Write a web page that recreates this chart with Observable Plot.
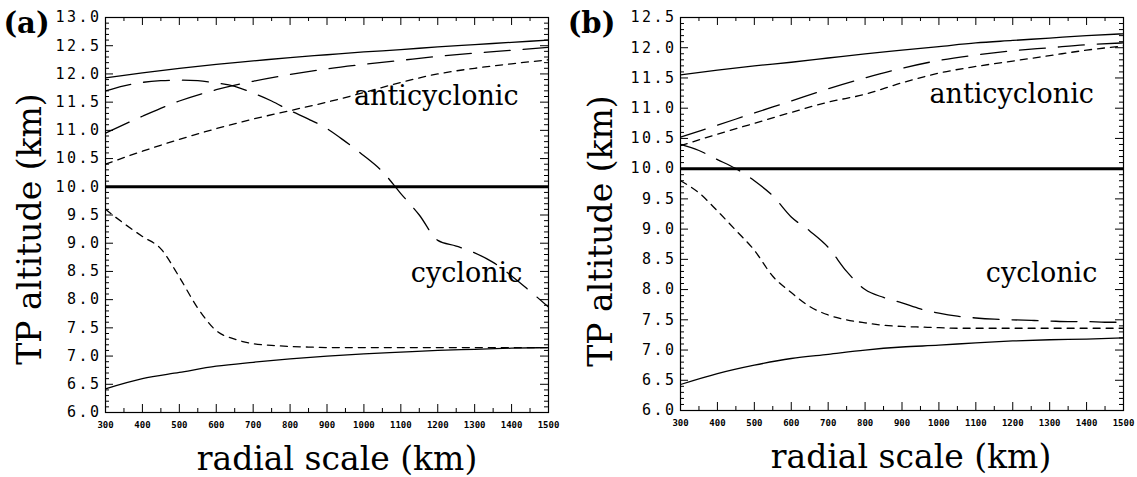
<!DOCTYPE html>
<html><head><meta charset="utf-8">
<script src="https://cdn.jsdelivr.net/npm/d3@7"></script>
<script src="https://cdn.jsdelivr.net/npm/@observablehq/plot@0.6"></script>
<style>
html,body{margin:0;padding:0;background:#fff;}
#wrap{display:flex;width:1137px;height:477px;overflow:hidden;}
#wrap svg{display:block;flex:none;}
g[aria-label="y-axis tick label"] text{letter-spacing:2.5px;}
</style></head><body><div id="wrap"></div>
<script>
// ---------- data ----------
const radius = [300,400,500,600,700,800,900,1000,1100,1200,1300,1400,1500];
const radiusFine = [300,350,400,450,500,550,600,650,700,750,800,850,900,950,1000,1050,1100,1150,1200,1250,1300,1350,1400,1450,1500];

// panel (a)
const aSolidUpper = [11.93,12.02,12.10,12.17,12.23,12.29,12.34,12.39,12.43,12.48,12.52,12.56,12.60];
const aLongUpper  = [10.95,11.25,11.52,11.72,11.87,11.99,12.09,12.17,12.24,12.31,12.37,12.42,12.47];
const aShortUpper = [10.40,10.63,10.84,11.03,11.20,11.35,11.50,11.67,11.85,12.00,12.10,12.18,12.25];
const aSolidLower = [6.42,6.60,6.71,6.82,6.89,6.95,7.00,7.04,7.07,7.10,7.12,7.14,7.15];
const aLongCyclonic  = [11.70,11.79,11.85,11.88,11.89,11.88,11.84,11.78,11.66,11.52,11.35,11.20,11.03,10.80,10.55,10.27,9.88,9.50,9.05,8.95,8.83,8.66,8.42,8.15,7.87];
const aShortCyclonic = [9.60,9.35,9.12,8.90,8.40,7.85,7.45,7.30,7.22,7.19,7.17,7.16,7.15,7.15,7.15,7.15,7.15,7.15,7.15,7.15,7.15,7.15,7.15,7.15,7.15];

// panel (b)
const bSolidUpper = [11.55,11.63,11.70,11.76,11.83,11.90,11.96,12.02,12.08,12.12,12.16,12.20,12.23];
const bLongUpper  = [10.52,10.72,10.92,11.12,11.32,11.50,11.66,11.79,11.88,11.95,12.00,12.05,12.08];
const bShortUpper = [10.38,10.57,10.75,10.93,11.10,11.23,11.42,11.58,11.69,11.78,11.87,11.96,12.03];
const bSolidLower = [6.43,6.61,6.75,6.86,6.93,7.00,7.05,7.08,7.12,7.15,7.17,7.18,7.20];
const bLongCyclonic  = [10.40,10.30,10.15,10.00,9.80,9.55,9.20,8.97,8.70,8.30,8.00,7.87,7.78,7.68,7.61,7.56,7.53,7.51,7.50,7.49,7.48,7.47,7.47,7.46,7.46];
const bShortCyclonic = [9.80,9.60,9.30,8.98,8.65,8.22,7.95,7.72,7.58,7.50,7.45,7.41,7.39,7.38,7.37,7.36,7.36,7.36,7.36,7.36,7.36,7.36,7.36,7.36,7.36];

const referenceLevel = [10.0];

// ticks & labels
const xTicks = [300,400,500,600,700,800,900,1000,1100,1200,1300,1400,1500];
const xMinorTicks = [350,450,550,650,750,850,950,1050,1150,1250,1350,1450];
const yTicksA = [6.0,6.5,7.0,7.5,8.0,8.5,9.0,9.5,10.0,10.5,11.0,11.5,12.0,12.5,13.0];
const yTicksB = [6.0,6.5,7.0,7.5,8.0,8.5,9.0,9.5,10.0,10.5,11.0,11.5,12.0,12.5];
const xLabel = "radial scale (km)";
const yLabel = "TP altitude (km)";
const annotationsA = [{text:"anticyclonic", r:1196, alt:11.60}, {text:"cyclonic", r:1278, alt:8.46}];
const annotationsB = [{text:"anticyclonic", r:1197, alt:11.23}, {text:"cyclonic", r:1278, alt:8.27}];

// ---------- drawing ----------
const SERIF = "DejaVu Serif";
const MONO = "DejaVu Sans Mono";

function pts(xs, ys){ return xs.map((x,i)=>({r:x, alt:ys[i]})); }

function panel(o){
  const H = 477;
  const iw = o.width - o.ml - o.mr, ih = H - o.mt - o.mb;
  const [y0, y1] = o.yDomain;
  const yMinor = d3.range(Math.round(y0*10), Math.round(y1*10)+1).map(d=>d/10).filter(d => Math.round(d*10) % 5 !== 0);
  const ln = (xs, ys, dash, sw=1.3) => Plot.line(pts(xs, ys), {x:"r", y:"alt", stroke:"black", strokeWidth:sw, strokeDasharray:dash, curve:"monotone-x", clip:true});
  return Plot.plot({
    width:o.width, height:H,
    marginLeft:o.ml, marginRight:o.mr, marginTop:o.mt, marginBottom:o.mb,
    x:{domain:[300,1500]},
    y:{domain:o.yDomain},
    style:{background:"white", color:"black", fontFamily:MONO, overflow:"visible"},
    marks:[
      // inward ticks
      Plot.ruleX(xTicks, {insetTop: ih-8, stroke:"black"}),
      Plot.ruleX(xMinorTicks, {insetTop: ih-4, stroke:"black"}),
      Plot.ruleX(xTicks, {insetBottom: ih-8, stroke:"black"}),
      Plot.ruleX(xMinorTicks, {insetBottom: ih-4, stroke:"black"}),
      Plot.ruleY(o.yTicks, {insetRight: iw-8, stroke:"black"}),
      Plot.ruleY(yMinor, {insetRight: iw-4, stroke:"black"}),
      Plot.ruleY(o.yTicks, {insetLeft: iw-8, stroke:"black"}),
      Plot.ruleY(yMinor, {insetLeft: iw-4, stroke:"black"}),
      Plot.axisX({ticks:xTicks, tickSize:0, tickPadding:9, fontSize:9, fontWeight:"bold", fontFamily:MONO, tickFormat:d=>String(d), label:null}),
      Plot.axisY({ticks:o.yTicks, tickSize:0, tickPadding:4, fontSize:15, fontFamily:MONO, tickFormat:d3.format(".1f"), label:null}),
      // reference level
      Plot.ruleY(referenceLevel, {stroke:"black", strokeWidth:3}),
      // series
      ln(radius, o.solidUpper, null),
      ln(radius, o.longUpper, "26,13"),
      ln(radius, o.shortUpper, "7,6"),
      ln(radius, o.solidLower, null),
      ln(radiusFine, o.longCyc, "26,13"),
      ln(radiusFine, o.shortCyc, "7,6"),
      Plot.frame({stroke:"black", strokeWidth:1.2}),
      // annotations
      Plot.text(o.annotations, {x:"r", y:"alt", text:"text", fontFamily:SERIF, fontSize:27, textAnchor:"middle", lineAnchor:"middle"}),
      // axis titles
      Plot.text([yLabel], {text:d=>d, frameAnchor:"left", rotate:-90, dx:o.yLabelDx, dy:o.yLabelDy, fontFamily:SERIF, fontSize:33, textAnchor:"middle", lineAnchor:"middle"}),
      Plot.text([xLabel], {text:d=>d, frameAnchor:"bottom", dx:o.xLabelDx, dy:47, fontFamily:SERIF, fontSize:33, textAnchor:"middle", lineAnchor:"middle"}),
      Plot.text([o.tag], {text:d=>d, frameAnchor:"top-left", dx:o.tagDx, dy:6, fontFamily:SERIF, fontWeight:"bold", fontSize:29, textAnchor:"middle", lineAnchor:"middle"})
    ]
  });
}

const wrap = document.getElementById("wrap");
wrap.appendChild(panel({
  width:568, ml:105, mr:20, mt:17, mb:65, yDomain:[6,13], yTicks:yTicksA,
  solidUpper:aSolidUpper, longUpper:aLongUpper, shortUpper:aShortUpper, solidLower:aSolidLower,
  longCyc:aLongCyclonic, shortCyc:aShortCyclonic, annotations:annotationsA,
  yLabelDx:-75, yLabelDy:14, xLabelDx:10, tag:"(a)", tagDx:-79
}));
wrap.appendChild(panel({
  width:569, ml:112, mr:14, mt:17, mb:67, yDomain:[6,12.5], yTicks:yTicksB,
  solidUpper:bSolidUpper, longUpper:bLongUpper, shortUpper:bShortUpper, solidLower:bSolidLower,
  longCyc:bLongCyclonic, shortCyc:bShortCyclonic, annotations:annotationsB,
  yLabelDx:-79, yLabelDy:17, xLabelDx:9, tag:"(b)", tagDx:-89
}));
</script></body></html>
